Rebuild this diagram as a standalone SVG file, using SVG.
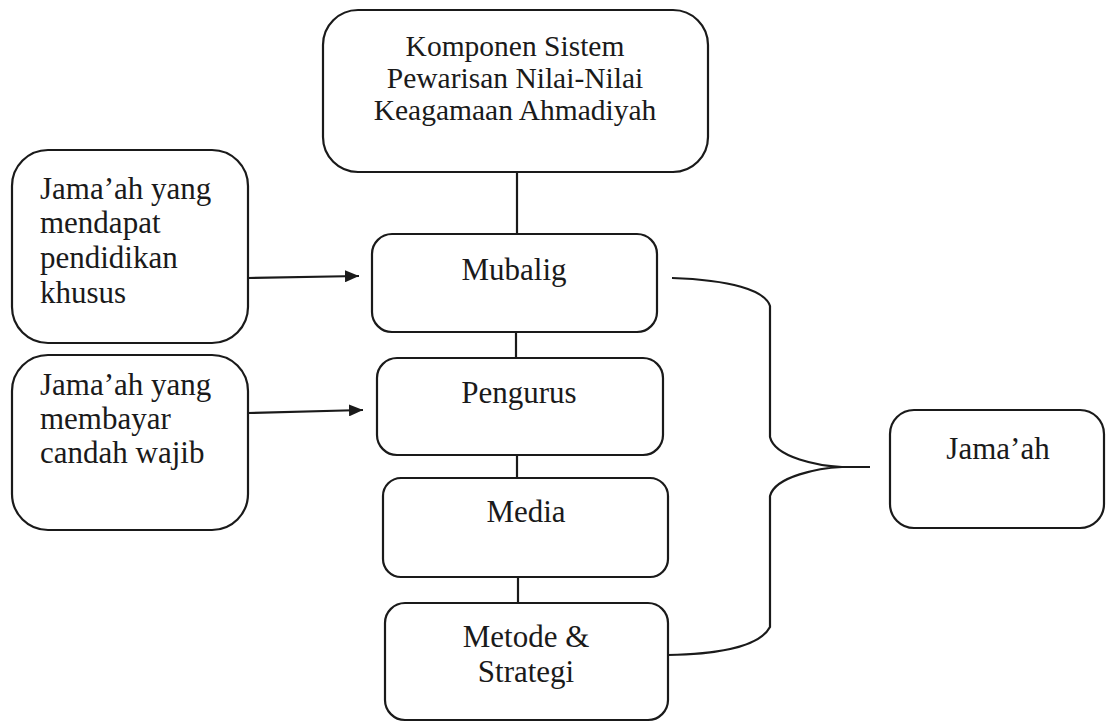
<svg xmlns="http://www.w3.org/2000/svg" width="1106" height="722" viewBox="0 0 1106 722">
<style>
.box{fill:#fff;stroke:#1a1a1a;stroke-width:2.2}
.t{font-family:"Liberation Serif","Times New Roman",serif;font-size:31px;fill:#1a1a1a}
.s{font-size:29.5px}
.c{text-anchor:middle}
.ln{fill:none;stroke:#1a1a1a;stroke-width:2.2}
</style>
<defs>
<marker id="ah" markerWidth="14" markerHeight="12" refX="14" refY="6" orient="auto" markerUnits="userSpaceOnUse">
<path d="M0,0 L14,6 L0,12 Z" fill="#1a1a1a"/>
</marker>
</defs>
<rect width="1106" height="722" fill="#fff"/>
<g id="connectors">
<line class="ln" x1="517" y1="172" x2="517" y2="234"/>
<line class="ln" x1="516" y1="332" x2="516" y2="358"/>
<line class="ln" x1="517" y1="455" x2="517" y2="478"/>
<line class="ln" x1="518" y1="577" x2="518" y2="603"/>
<line class="ln" x1="248" y1="278" x2="359" y2="276" marker-end="url(#ah)"/>
<line class="ln" x1="248" y1="413" x2="363" y2="410" marker-end="url(#ah)"/>
<path class="ln" d="M672,278 C730,280 765,290 770,306 L770,437 C775,458 820,466 842,467 L870,467 M842,467 C820,468 775,476 770,496 L770,627 C760,646 720,654 668,655"/>
</g>
<g id="n-top">
<rect class="box" x="323" y="10" width="385" height="162" rx="35" ry="35"/>
<text class="t s c" x="515" y="56">Komponen Sistem</text>
<text class="t s c" x="515" y="88">Pewarisan Nilai-Nilai</text>
<text class="t s c" x="515" y="120">Keagamaan Ahmadiyah</text>
</g>
<g id="n-jamaah1">
<rect class="box" x="12" y="150" width="236" height="193" rx="36" ry="36"/>
<text class="t" x="40" y="199">Jama’ah yang</text>
<text class="t" x="40" y="233">mendapat</text>
<text class="t" x="40" y="268">pendidikan</text>
<text class="t" x="40" y="303">khusus</text>
</g>
<g id="n-jamaah2">
<rect class="box" x="12" y="355" width="236" height="175" rx="36" ry="36"/>
<text class="t" x="40" y="395">Jama’ah yang</text>
<text class="t" x="40" y="429">membayar</text>
<text class="t" x="40" y="463">candah wajib</text>
</g>
<g id="n-mubalig">
<rect class="box" x="372" y="234" width="285" height="98" rx="20" ry="20"/>
<text class="t c" x="514" y="280">Mubalig</text>
</g>
<g id="n-pengurus">
<rect class="box" x="377" y="358" width="286" height="97" rx="20" ry="20"/>
<text class="t c" x="519" y="403">Pengurus</text>
</g>
<g id="n-media">
<rect class="box" x="383" y="478" width="285" height="99" rx="18" ry="18"/>
<text class="t c" x="526" y="522">Media</text>
</g>
<g id="n-metode">
<rect class="box" x="385" y="603" width="283" height="117" rx="20" ry="20"/>
<text class="t c" x="526" y="647">Metode &amp;</text>
<text class="t c" x="526" y="682">Strategi</text>
</g>
<g id="n-jamaah">
<rect class="box" x="890" y="410" width="214" height="118" rx="24" ry="24"/>
<text class="t c" x="998" y="459">Jama’ah</text>
</g>
</svg>
